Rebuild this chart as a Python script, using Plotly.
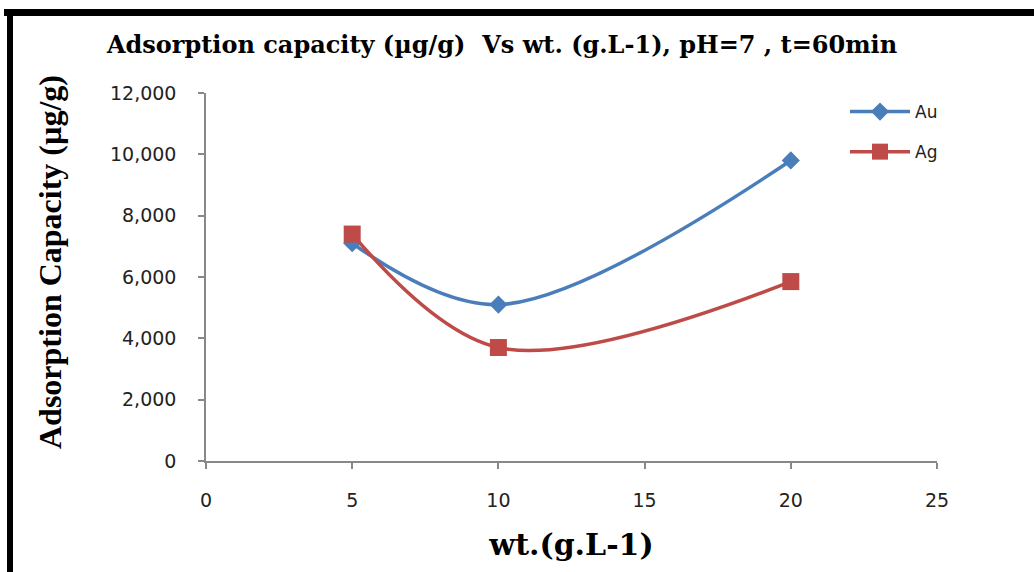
import plotly.graph_objects as go

wt = [5, 10, 20]
au_values = [7100, 5100, 9800]
ag_values = [7400, 3700, 5850]
x_ticks = [0, 5, 10, 15, 20, 25]
y_ticks = [0, 2000, 4000, 6000, 8000, 10000, 12000]
y_tick_labels = ["0", "2,000", "4,000", "6,000", "8,000", "10,000", "12,000"]

fig = go.Figure()
fig.add_trace(go.Scatter(
    x=wt, y=au_values, name="Au", mode="lines+markers", legendgroup="au",
    line=dict(color="#4A7EBB", width=3.5, shape="spline", smoothing=1),
    marker=dict(symbol="diamond", size=14, color="#4A7EBB"),
))
fig.add_trace(go.Scatter(
    x=wt, y=ag_values, name="Ag", mode="lines+markers", legendgroup="ag",
    line=dict(color="#BE4B48", width=3.5, shape="spline", smoothing=1),
    marker=dict(symbol="square", size=17, color="#BE4B48"),
))

W, H = 1034, 572
L, R, T, B = 206, 97, 93, 111
PW, PH = W - L - R, H - T - B

fig.update_layout(
    width=W, height=H,
    margin=dict(l=L, r=R, t=T, b=B),
    paper_bgcolor="white", plot_bgcolor="white",
    title=dict(
        text="Adsorption capacity (µg/g)  Vs wt. (g.L-1), pH=7 , t=60min",
        font=dict(family="DejaVu Serif", size=24, color="black", weight="bold"),
        x=502 / W, xanchor="center", y=1 - 45 / H, yanchor="middle",
    ),
    showlegend=True,
    legend=dict(
        x=(845 - L) / PW, y=1 - (94 - T) / PH,
        xanchor="left", yanchor="top",
        font=dict(family="DejaVu Sans", size=17, color="#222"),
        bgcolor="rgba(0,0,0,0)", tracegroupgap=15,
        itemwidth=60,
    ),
    xaxis=dict(
        range=[0, 25], tickvals=x_ticks, ticktext=[str(v) for v in x_ticks],
        showgrid=False, zeroline=False, showline=True, linecolor="#888", linewidth=1.5,
        ticks="outside", ticklen=6, tickcolor="#888", tickwidth=1.5,
        ticklabelstandoff=15,
        tickfont=dict(family="DejaVu Sans", size=19, color="#222"),
        title=dict(text="wt.(g.L-1)", standoff=24,
                   font=dict(family="DejaVu Serif", size=30, color="black", weight="bold")),
    ),
    yaxis=dict(
        range=[0, 12000], tickvals=y_ticks, ticktext=y_tick_labels,
        showgrid=False, zeroline=False, showline=True, linecolor="#888", linewidth=1.5,
        ticks="outside", ticklen=6, tickcolor="#888", tickwidth=1.5,
        ticklabelstandoff=18,
        tickfont=dict(family="DejaVu Sans", size=19, color="#222"),
    ),
    annotations=[
        dict(text="Adsorption Capacity (µg/g)", textangle=-90, showarrow=False,
             xref="paper", yref="paper",
             x=-(L - 50) / PW, y=1 - (262 - T) / PH, xanchor="center", yanchor="middle",
             font=dict(family="Liberation Serif", size=32, color="black", weight="bold")),
    ],
    shapes=[
        dict(type="rect", xref="paper", yref="paper", layer="above",
             x0=-(L - 4) / PW, x1=(W - L) / PW,
             y0=1 + (T - 9) / PH, y1=1 + (T - 16) / PH,
             fillcolor="black", line=dict(width=0)),
        dict(type="rect", xref="paper", yref="paper", layer="above",
             x0=-(L - 7) / PW, x1=-(L - 13) / PW,
             y0=-B / PH, y1=1 + (T - 9) / PH,
             fillcolor="black", line=dict(width=0)),
    ],
)

fig.write_html("out.html")
